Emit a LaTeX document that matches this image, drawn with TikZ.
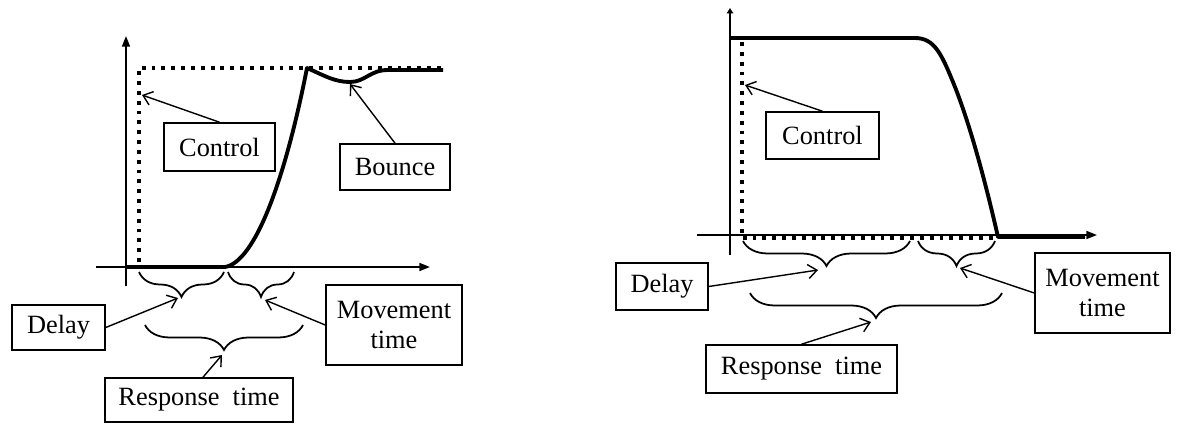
\documentclass[tikz,border=0pt]{standalone}
\usepackage{fontspec}
\setmainfont{Liberation Serif}
\usetikzlibrary{arrows.meta,decorations.pathreplacing}

\begin{document}
\begin{tikzpicture}[x=0.02cm,y=-0.02cm]
\tikzstyle{every node}+=[font=\fontsize{15}{17}\selectfont]
\tikzstyle{lbl}=[draw,black,line width=0.9pt,inner sep=0pt,align=center]
\tikzstyle{axis}=[black,line width=1pt,-{Triangle[length=6pt,width=4.5pt]}]
\tikzstyle{resp}=[black,line width=2.2pt,line join=round]
\tikzstyle{ctrl}=[black,line width=2.2pt,dash pattern=on 2.2pt off 3.4pt]
\tikzstyle{ptr}=[black,line width=0.8pt,-{Straight Barb[length=5pt,width=8pt]}]
\tikzstyle{brc}=[black,line width=1pt,decorate,decoration={brace,mirror,amplitude=0.5cm}]
\useasboundingbox (0,0) rectangle (1184,426);
% left plot: step up
\draw [axis] (126,286) -- (126,36);
\draw [axis] (96,267) -- (430,267);
\draw [ctrl] (139,262) -- (139,68) -- (443,68);
\draw [resp] (126,267) -- (225,267) .. controls (255,262) and (285,180) .. (307,68)
  .. controls (325,76) and (335,82) .. (350,82) .. controls (365,82) and (370,70) .. (388,70) -- (443,70);
\draw [brc] (139,272) -- (224,272);
\draw [brc] (228,272) -- (294,272);
\draw [brc] (145,325) -- (303,325);
\coordinate (ldelaytip) at (178,298);
\coordinate (lmovetip) at (265,300);
\coordinate (lresptip) at (222,355);
\coordinate (lctrlpt) at (142,95);
\coordinate (lbouncept) at (350,84);
\node [lbl,minimum width=2.22cm,minimum height=0.96cm] (lctrl) at (219.5,147) {Control};
\node [lbl,minimum width=2.2cm,minimum height=0.92cm] (lbounce) at (395,167) {Bounce};
\node [lbl,minimum width=1.86cm,minimum height=0.9cm] (ldelay) at (58.5,327.5) {Delay};
\node [lbl,minimum width=2.72cm,minimum height=1.6cm] (lmove) at (394,325) {Movement\\time};
\node [lbl,minimum width=3.76cm,minimum height=0.88cm] (lresp) at (199,400) {Response\ \ time};
\draw [ptr] (lctrl.north) -- (lctrlpt);
\draw [ptr] (lbounce.north) -- (lbouncept);
\draw [ptr] (ldelay.east) -- (ldelaytip);
\draw [ptr] (lmove.west) -- (lmovetip);
\draw [ptr] (lresp.north) ++(4,0) -- (lresptip);
% right plot: step down
\draw [axis,-{Triangle[length=3pt,width=3.5pt]}] (730,255) -- (730,8);
\draw [axis] (697,235) -- (1097,235);
\draw [ctrl] (742,42) -- (742,238) -- (998,238);
\draw [resp] (730,38) -- (915,38) .. controls (935,38) and (942,55) .. (955,87)
  .. controls (970,125) and (985,180) .. (998,237) -- (1085,237);
\draw [brc] (743,241) -- (910,241);
\draw [brc] (918,241) -- (995,241);
\draw [brc] (750,293) -- (1002,293);
\coordinate (rdelaytip) at (818,270);
\coordinate (rmovetip) at (960,268);
\coordinate (rresptip) at (871,322);
\coordinate (rctrlpt) at (745,85);
\node [lbl,minimum width=2.26cm,minimum height=0.94cm] (rctrl) at (822.5,135.5) {Control};
\node [lbl,minimum width=1.84cm,minimum height=0.94cm] (rdelay) at (662,286.5) {Delay};
\node [lbl,minimum width=2.7cm,minimum height=1.6cm] (rmove) at (1102.5,293) {Movement\\time};
\node [lbl,minimum width=3.82cm,minimum height=0.96cm] (rresp) at (801.5,369) {Response\ \ time};
\draw [ptr] (rctrl.north) -- (rctrlpt);
\draw [ptr] (rdelay.east) -- (rdelaytip);
\draw [ptr] (rmove.west) -- (rmovetip);
\draw [ptr] (rresp.north) -- (rresptip);
\end{tikzpicture}
\end{document}
